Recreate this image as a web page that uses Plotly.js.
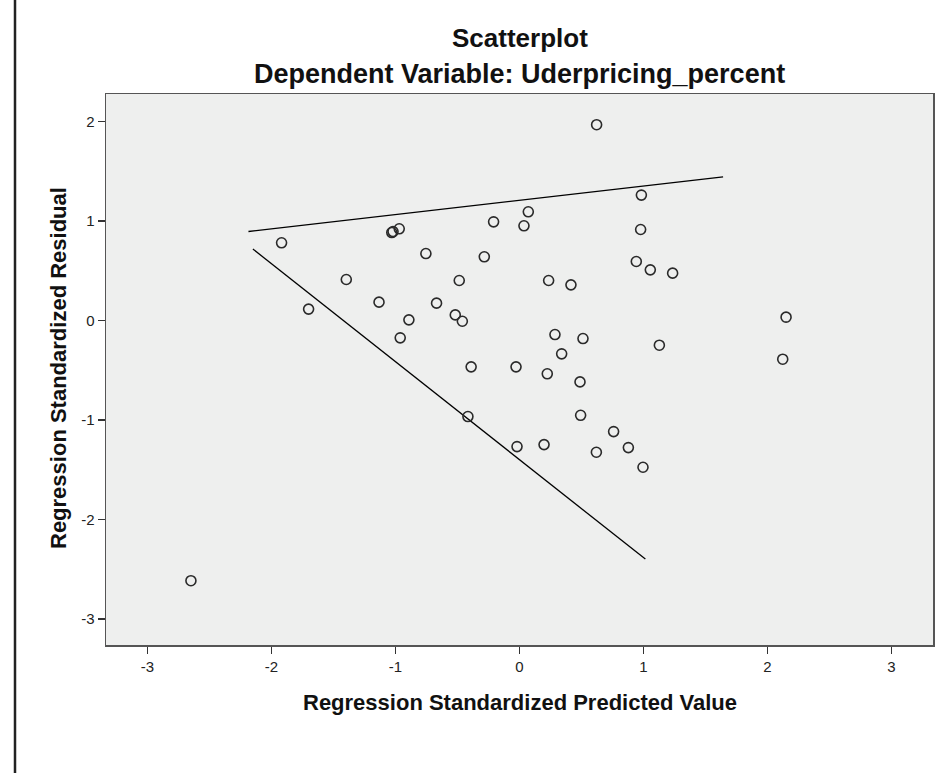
<!DOCTYPE html>
<html>
<head>
<meta charset="utf-8">
<script src="https://cdn.plot.ly/plotly-3.0.1.min.js"></script>
<style>html,body{margin:0;padding:0;background:#fff;}#chart{width:943px;height:773px;}</style>
</head>
<body>
<div id="chart"></div>
<script>
// Scatter points: standardized predicted value (x) and standardized residual (y)
const predicted = [-2.65, -1.919, -1.701, -1.397, -1.133, -1.03, -1.02, -0.970, -0.962, -0.892,
  -0.755, -0.669, -0.518, -0.461, -0.486, -0.284, -0.209, 0.036, 0.071, 0.235,
  0.415, 0.286, 0.512, 0.340, 0.622, 0.983, 0.977, 0.942, 1.055, 1.235,
  2.150, 2.123, 1.128, -0.390, -0.028, 0.224, 0.488, -0.416, 0.493, 0.759,
  -0.020, 0.198, 0.620, 0.878, 0.996];
const residual = [-2.617, 0.782, 0.115, 0.413, 0.185, 0.885, 0.895, 0.923, -0.174, 0.007,
  0.674, 0.175, 0.057, -0.007, 0.403, 0.641, 0.993, 0.953, 1.094, 0.403,
  0.359, -0.141, -0.181, -0.335, 1.970, 1.262, 0.916, 0.594, 0.510, 0.477,
  0.034, -0.389, -0.248, -0.466, -0.466, -0.536, -0.617, -0.966, -0.953, -1.117,
  -1.268, -1.248, -1.325, -1.278, -1.476];

// Hand-drawn guide lines (endpoints in data units)
const upperLineX = [-2.186, 1.642];
const upperLineY = [0.896, 1.446];
const lowerLineX = [-2.150, 1.015];
const lowerLineY = [0.719, -2.40];

const xTickVals = [-3, -2, -1, 0, 1, 2, 3];
const xTickText = ['-3', '-2', '-1', '0', '1', '2', '3'];
const yTickVals = [-3, -2, -1, 0, 1, 2];
const yTickText = ['-3', '-2', '-1', '0', '1', '2'];

const chartTitle = 'Scatterplot';
const chartSubtitle = 'Dependent Variable: Uderpricing_percent';
const xTitle = 'Regression Standardized Predicted Value';
const yTitle = 'Regression Standardized Residual';

const FONT = 'Liberation Sans, Arial, sans-serif';

const traces = [
  {x: upperLineX, y: upperLineY, mode: 'lines', line: {color: '#000', width: 1.3}, hoverinfo: 'skip'},
  {x: lowerLineX, y: lowerLineY, mode: 'lines', line: {color: '#000', width: 1.3}, hoverinfo: 'skip'},
  {x: predicted, y: residual, mode: 'markers', type: 'scatter',
   marker: {symbol: 'circle-open', size: 10, color: '#2a2a2a', line: {width: 1.6, color: '#2a2a2a'}}}
];

const axisCommon = {
  showline: true, mirror: true, linecolor: '#555', linewidth: 1.5,
  ticks: 'outside', ticklen: 7, tickwidth: 1.5, tickcolor: '#333',
  showgrid: false, zeroline: false,
  tickfont: {family: FONT, size: 15, color: '#222'},
  fixedrange: true
};

const layout = {
  width: 943, height: 773,
  margin: {l: 106, r: 10, t: 94, b: 128},
  paper_bgcolor: '#ffffff',
  plot_bgcolor: '#eeefee',
  showlegend: false,
  xaxis: Object.assign({}, axisCommon, {range: [-3.335, 3.335], tickvals: xTickVals, ticktext: xTickText}),
  yaxis: Object.assign({}, axisCommon, {range: [-3.264, 2.279], tickvals: yTickVals, ticktext: yTickText}),
  annotations: [
    {text: '<b>' + chartTitle + '</b>', xref: 'paper', yref: 'paper', x: 0.5, y: (645 - 38) / 551,
     xanchor: 'center', yanchor: 'middle', showarrow: false, font: {family: FONT, size: 26, color: '#111'}},
    {text: '<b>' + chartSubtitle + '</b>', xref: 'paper', yref: 'paper', x: 0.5, y: (645 - 74) / 551,
     xanchor: 'center', yanchor: 'middle', showarrow: false, font: {family: FONT, size: 27, color: '#111'}},
    {text: '<b>' + xTitle + '</b>', xref: 'paper', yref: 'paper', x: 0.5, y: (645 - 703) / 551,
     xanchor: 'center', yanchor: 'middle', showarrow: false, font: {family: FONT, size: 22, color: '#111'}},
    {text: '<b>' + yTitle + '</b>', xref: 'paper', yref: 'paper', x: (58 - 106) / 827, y: (645 - 368) / 551,
     xanchor: 'center', yanchor: 'middle', textangle: -90, showarrow: false, font: {family: FONT, size: 22, color: '#111'}}
  ],
  shapes: [
    {type: 'line', xref: 'paper', yref: 'paper', x0: (15 - 106) / 827, x1: (15 - 106) / 827,
     y0: (645 + 10) / 551, y1: (645 - 790) / 551, line: {color: '#222', width: 2.5}}
  ]
};

Plotly.newPlot('chart', traces, layout, {displayModeBar: false, staticPlot: true});
</script>
</body>
</html>
